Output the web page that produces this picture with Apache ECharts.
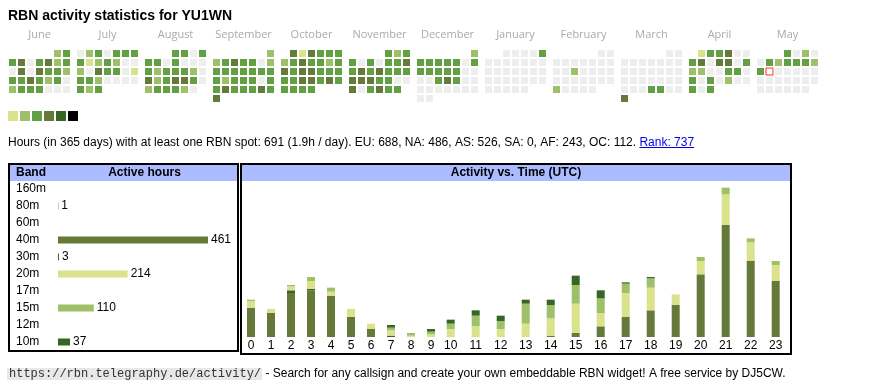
<!DOCTYPE html>
<html><head><meta charset="utf-8">
<script src="https://cdn.jsdelivr.net/npm/echarts@6/dist/echarts.min.js"></script>
<style>html,body{margin:0;padding:0;background:#fff}#c{width:870px;height:390px}</style>
</head><body><div id="c"></div>
<script>
// ---------------- DATA ----------------
const callsign = 'YU1WN';
const monthNames = ['June','July','August','September','October','November','December','January','February','March','April','May'];
const monthKeys  = ['2024-06','2024-07','2024-08','2024-09','2024-10','2024-11','2024-12','2025-01','2025-02','2025-03','2025-04','2025-05'];
// activity level per day (0 = none ... 5 = most)
const lvlJun = [2,3, 3,4,0,3,4,2,3, 0,4,0,4,3,3,2, 3,3,4,3,2,3,0, 2,3,3,3,0,0,0];
const lvlJul = [0,2,3,0,3,3,3, 3,1,2,3,2,0,0, 2,0,4,3,3,0,1, 3,3,2,0,0,0,0, 3,2,3];
const lvlAug = [3,3,0,3, 3,3,0,3,0,0,0, 3,2,3,3,3,2,0, 4,2,3,4,4,3,0, 2,3,3,3,2,0];
const lvlSep = [2, 2,3,4,3,3,0,2, 3,3,3,3,3,3,3, 3,2,3,3,3,0,3, 3,4,3,3,3,4,3, 4];
const lvlOct = [4,1,4,3,3,3, 2,3,4,3,3,2,3, 4,3,4,4,3,3,3, 3,3,4,4,3,4,3, 3,3,3,3];
const lvlNov = [3,2,3, 3,0,3,0,3,3,4, 3,4,3,4,3,3,3, 4,4,4,3,3,0,0, 4,0,3,4,3,3];
const lvlDec = [2, 3,3,3,3,3,0,3, 3,3,3,3,3,0,0, 0,0,3,4,3,0,0, 0,0,0,0,0,0,0, 0,0];
const lvlJan = [0,0,0,0,3, 0,0,0,0,0,0,0, 0,0,0,0,0,0,0, 0,0,0,0,0,0,0, 0,0,0,0,0];
const lvlFeb = [0,0, 0,0,0,0,0,0,0, 0,0,2,0,0,0,0, 0,0,0,0,0,0,0, 2,0,0,0,0];
const lvlMar = [0,0, 0,0,0,0,0,0,0, 0,0,0,0,0,0,0, 0,0,0,0,0,0,0, 0,0,0,3,3,0,0, 4];
const lvlApr = [1,3,3,4,0,0, 3,4,0,4,4,0,3, 2,2,0,0,3,3,0, 3,0,3,0,2,0,0, 3,0,3];
const lvlMay = [3,0,2,0, 0,3,2,3,3,3,2, 3,0,0,0,0,0,0, 0,0,0,0,0,0,0, 0,0,0,0,0,0];
const todayDate = '2025-05-13';
const levelColors = ['#eeeeee','#dae28c','#9dc068','#63a044','#65793a','#366524','#000000'];

const bands = ['160m','80m','60m','40m','30m','20m','17m','15m','12m','10m'];
const bandHours = [0,1,0,461,3,214,0,110,0,37];
const bandColors = ['#8a8a8a','#366524','#aaaaaa','#65793a','#366524','#dae28c','#cccc66','#9dc068','#88aa55','#366524'];

const hours = ['0','1','2','3','4','5','6','7','8','9','10','11','12','13','14','15','16','17','18','19','20','21','22','23'];
const hr80 = [0,0,0,0,0,0,0,1,0,0,0,0,0,0,0,0,0,0,0,0,0,0,0,0];
const hr40 = [22,18,33,35,31,15,6,0,0,0,0,0,0,0,1,3,8,15,20,24,47,84,57,42];
const hr30 = [0,0,2,1,0,0,0,0,0,0,0,0,0,0,0,0,0,0,0,0,0,0,0,0];
const hr20 = [5,3,3,6,3,6,4,4,1,2,6,8,6,10,13,22,10,18,17,8,10,23,14,12];
const hr15 = [1,0,1,3,3,0,0,2,2,2,4,8,6,15,10,14,11,7,7,0,3,5,3,3];
const hr10 = [0,0,0,0,0,0,0,2,0,2,3,4,4,3,4,7,6,1,1,0,0,0,0,0];

const totalHours = 691, perDay = '1.9', euH = 688, naH = 486, asH = 526, saH = 0, afH = 243, ocH = 112, rank = 737;
const siteUrl = 'https://rbn.telegraphy.de/activity/';
const footerText = ' - Search for any callsign and create your own embeddable RBN widget! A free service by DJ5CW.';

// ---------------- BUILD ----------------
const FONT = '"Liberation Sans", Arial, Helvetica, sans-serif';
const MONO = '"Liberation Mono", "Courier New", monospace';
const ctx = document.createElement('canvas').getContext('2d');
function tw(t, f) { ctx.font = f; return ctx.measureText(t).width; }

const monthLevels = [lvlJun,lvlJul,lvlAug,lvlSep,lvlOct,lvlNov,lvlDec,lvlJan,lvlFeb,lvlMar,lvlApr,lvlMay];
const calendars = [], series = [], graphics = [];
const CAL_LEFT = 8, CAL_STEP = 68, CAL_TOP = 49, CELL = 9;

monthKeys.forEach((key, i) => {
  calendars.push({
    orient: 'vertical', range: key, left: CAL_LEFT + CAL_STEP * i, top: CAL_TOP,
    cellSize: [CELL, CELL],
    splitLine: { show: false },
    itemStyle: { color: 'rgba(0,0,0,0)', borderColor: 'rgba(0,0,0,0)', borderWidth: 2 },
    dayLabel: { show: false, firstDay: 1 }, monthLabel: { show: false }, yearLabel: { show: false }
  });
  const data = monthLevels[i].map((lv, d) => [key + '-' + String(d + 1).padStart(2, '0'), lv]);
  series.push({
    type: 'heatmap', coordinateSystem: 'calendar', calendarIndex: i, data,
    itemStyle: { borderWidth: 0 }, emphasis: { disabled: true }, silent: true
  });
  graphics.push({
    type: 'text', x: CAL_LEFT + CAL_STEP * i + 31.5, y: 35,
    style: { text: monthNames[i], font: '11px "Open Sans", sans-serif', fill: '#aaaaaa', align: 'center', verticalAlign: 'middle' }
  });
});
const heatIdx = series.map((s, i) => i);
series.push({
  type: 'scatter', coordinateSystem: 'calendar', calendarIndex: 11, data: [[todayDate, 0]],
  symbol: 'rect', symbolSize: 7, silent: true,
  itemStyle: { color: '#ffffff', borderColor: '#ff0000', borderWidth: 1 }
});

// legend swatches
levelColors.slice(1).forEach((c, i) => {
  graphics.push({ type: 'rect', shape: { x: 8 + 12 * i, y: 111, width: 10, height: 10 }, style: { fill: c } });
});

// band table bars
series.push({
  type: 'bar', xAxisIndex: 0, yAxisIndex: 0, barWidth: 7, silent: true,
  data: bandHours.map((v, i) => v > 0 ? { value: v, itemStyle: { color: bandColors[i] } } : '-'),
  label: { show: true, position: 'right', distance: 3, fontSize: 12, fontFamily: FONT, color: '#000' }
});

// hourly stacked bars in two grids
const hourSets = [[hr80, bandColors[1]], [hr40, bandColors[3]], [hr30, bandColors[4]], [hr20, bandColors[5]], [hr15, bandColors[7]], [hr10, bandColors[9]]];
[[0, 10], [10, 24]].forEach((rg, g) => {
  hourSets.forEach(([arr, col]) => {
    series.push({
      type: 'bar', xAxisIndex: g + 1, yAxisIndex: g + 1, stack: 'h' + g, barWidth: 8, silent: true,
      itemStyle: { color: col }, data: arr.slice(rg[0], rg[1])
    });
  });
});

// text / frames
graphics.push({ type: 'text', x: 8, y: 16, style: { text: 'RBN activity statistics for ' + callsign, font: 'bold 14px ' + FONT, fill: '#000', verticalAlign: 'middle' } });
const statsText = `Hours (in 365 days) with at least one RBN spot: ${totalHours} (${perDay}h / day). EU: ${euH}, NA: ${naH}, AS: ${asH}, SA: ${saH}, AF: ${afH}, OC: ${ocH}. `;
const linkText = `Rank: ${rank}`;
const F12 = '12px ' + FONT;
const sw = tw(statsText, F12), lw = tw(linkText, F12);
graphics.push({ type: 'text', x: 8, y: 143, style: { text: statsText, font: F12, fill: '#000', verticalAlign: 'middle' } });
graphics.push({ type: 'text', x: 8 + sw, y: 143, style: { text: linkText, font: F12, fill: '#0000ee', verticalAlign: 'middle' } });
graphics.push({ type: 'line', shape: { x1: 8 + sw, y1: 147.5, x2: 8 + sw + lw, y2: 147.5 }, style: { stroke: '#0000ee', lineWidth: 1 } });

graphics.push({ type: 'rect', shape: { x: 10, y: 165, width: 227, height: 16 }, style: { fill: '#aabbff' } });
graphics.push({ type: 'rect', shape: { x: 242, y: 165, width: 548, height: 16 }, style: { fill: '#aabbff' } });
graphics.push({ type: 'rect', shape: { x: 9, y: 164, width: 229, height: 187 }, style: { fill: 'none', stroke: '#000', lineWidth: 2 } });
graphics.push({ type: 'rect', shape: { x: 241, y: 164, width: 550, height: 190 }, style: { fill: 'none', stroke: '#000', lineWidth: 2 } });
const B12 = 'bold 12px ' + FONT;
graphics.push({ type: 'text', x: 16, y: 173, style: { text: 'Band', font: B12, fill: '#000', verticalAlign: 'middle' } });
graphics.push({ type: 'text', x: 144.5, y: 173, style: { text: 'Active hours', font: B12, fill: '#000', align: 'center', verticalAlign: 'middle' } });
graphics.push({ type: 'text', x: 516, y: 173, style: { text: 'Activity vs. Time (UTC)', font: B12, fill: '#000', align: 'center', verticalAlign: 'middle' } });

const M12 = '12px ' + MONO;
const uw = tw(siteUrl, M12);
graphics.push({ type: 'rect', shape: { x: 7, y: 368, width: uw + 3, height: 12 }, style: { fill: '#e8e8e8' } });
graphics.push({ type: 'text', x: 9, y: 374, style: { text: siteUrl, font: M12, fill: '#333', verticalAlign: 'middle' } });
graphics.push({ type: 'text', x: 9 + uw + 1, y: 374, style: { text: footerText, font: F12, fill: '#000', verticalAlign: 'middle' } });

const chart = echarts.init(document.getElementById('c'), null, { width: 870, height: 390 });
chart.setOption({
  animation: false,
  backgroundColor: '#fff',
  calendar: calendars,
  visualMap: {
    type: 'piecewise', show: false, dimension: 1, seriesIndex: heatIdx,
    pieces: levelColors.map((c, i) => ({ value: i, color: c }))
  },
  grid: [
    { left: 58, top: 180.5, width: 150, height: 170 },
    { left: 241, top: 177, width: 200, height: 160 },
    { left: 438.2, top: 177, width: 350, height: 160 }
  ],
  xAxis: [
    { gridIndex: 0, type: 'value', min: 0, max: 461, show: false },
    { gridIndex: 1, type: 'category', data: hours.slice(0, 10), axisLine: { show: false }, axisTick: { show: false },
      axisLabel: { margin: 3, fontSize: 12, color: '#000', fontFamily: FONT, interval: 0 } },
    { gridIndex: 2, type: 'category', data: hours.slice(10), axisLine: { show: false }, axisTick: { show: false },
      axisLabel: { margin: 3, fontSize: 12, color: '#000', fontFamily: FONT, interval: 0 } }
  ],
  yAxis: [
    { gridIndex: 0, type: 'category', data: bands, inverse: true, axisLine: { show: false }, axisTick: { show: false },
      splitLine: { show: false }, axisLabel: { align: 'left', margin: 42, fontSize: 12, color: '#000', fontFamily: FONT, interval: 0 } },
    { gridIndex: 1, type: 'value', min: 0, max: 120, show: false },
    { gridIndex: 2, type: 'value', min: 0, max: 120, show: false }
  ],
  series,
  graphic: graphics
});
</script></body></html>
